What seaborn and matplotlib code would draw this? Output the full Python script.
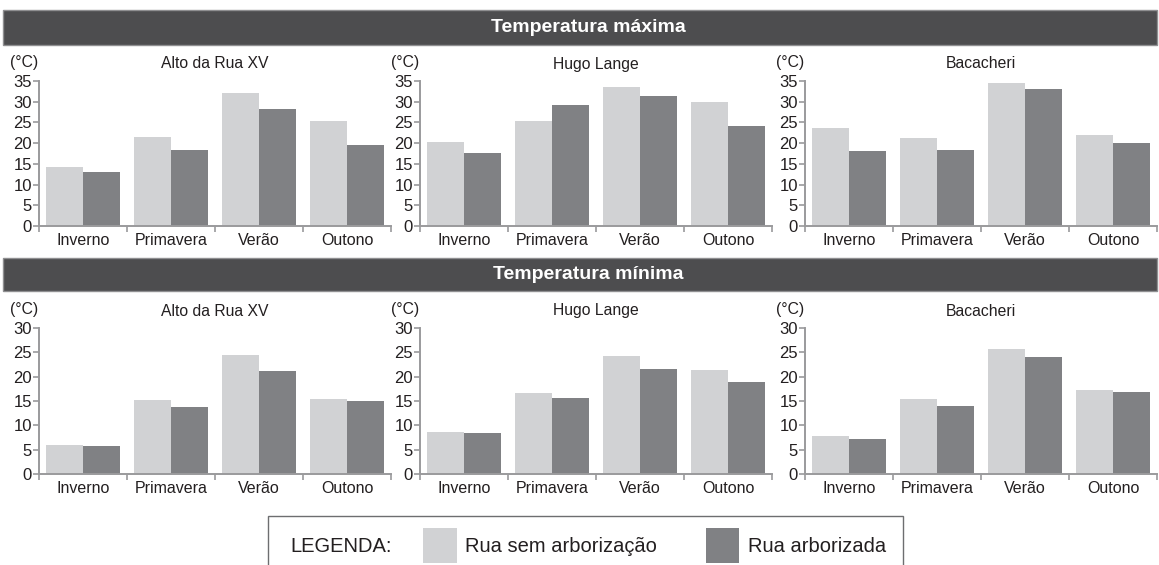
import matplotlib
matplotlib.use("Agg")
import matplotlib.pyplot as plt
import seaborn as sns
import pandas as pd
from matplotlib.patches import Rectangle

# ---------------- data ----------------
seasons = ["Inverno", "Primavera", "Verão", "Outono"]
stations = ["Alto da Rua XV", "Hugo Lange", "Bacacheri"]
series_names = ["Rua sem arborização", "Rua arborizada"]

# Temperatura máxima (°C)
max_alto_sem = [14.3, 21.5, 32.1, 25.4]
max_alto_arb = [13.1, 18.4, 28.3, 19.6]
max_hugo_sem = [20.3, 25.4, 33.5, 29.9]
max_hugo_arb = [17.7, 29.2, 31.4, 24.2]
max_baca_sem = [23.7, 21.3, 34.5, 22.0]
max_baca_arb = [18.2, 18.4, 33.1, 20.1]

# Temperatura mínima (°C)
min_alto_sem = [5.9, 15.2, 24.4, 15.4]
min_alto_arb = [5.7, 13.7, 21.1, 15.0]
min_hugo_sem = [8.6, 16.6, 24.2, 21.3]
min_hugo_arb = [8.4, 15.6, 21.5, 18.9]
min_baca_sem = [7.8, 15.4, 25.6, 17.2]
min_baca_arb = [7.2, 13.9, 24.0, 16.8]

max_ticks = [0, 5, 10, 15, 20, 25, 30, 35]
min_ticks = [0, 5, 10, 15, 20, 25, 30]

LIGHT = "#d1d2d4"
DARK = "#808184"
SPINE = "#9a9a9c"
HEADER = "#4d4d4f"
TXT = "#231f20"

sns.set_theme(style="white")
plt.rcParams['font.family'] = ['Liberation Sans', 'DejaVu Sans']

W, H = 1159, 565
fig = plt.figure(figsize=(W / 100, H / 100), dpi=100)


def fx(px):
    return px / W


def fy(py):
    return 1 - py / H


def draw(ax, sem, arb, ticks, title, left_px, width_px):
    df = pd.DataFrame({
        "Estação": seasons * 2,
        "Temp": sem + arb,
        "Tipo": [series_names[0]] * len(seasons) + [series_names[1]] * len(seasons),
    })
    sns.barplot(data=df, x="Estação", y="Temp", hue="Tipo", order=seasons,
                hue_order=series_names, palette=[LIGHT, DARK], saturation=1,
                width=0.83, gap=0, linewidth=0, ax=ax, legend=False)
    ax.set_xlim(-0.5, len(seasons) - 0.5)
    ax.set_ylim(ticks[0], ticks[-1])
    ax.set_yticks(ticks)
    ax.set_yticklabels([str(t) for t in ticks])
    ax.set_xticks(range(len(seasons)))
    ax.set_xticklabels(seasons)
    ax.set_xticks([i - 0.5 for i in range(len(seasons) + 1)], minor=True)
    ax.set_xlabel("")
    ax.set_ylabel("")
    for s in ["top", "right"]:
        ax.spines[s].set_visible(False)
    for s in ["left", "bottom"]:
        ax.spines[s].set_color(SPINE)
        ax.spines[s].set_linewidth(1.4)
    ax.tick_params(axis="x", which="major", length=0, pad=5, labelsize=11.5, labelcolor=TXT)
    ax.tick_params(axis="x", which="minor", length=4, width=1.2, color=SPINE, direction="out", bottom=True)
    ax.tick_params(axis="y", which="major", length=4, width=1.2, color=SPINE, direction="out",
                   left=True, pad=1, labelsize=12, labelcolor=TXT)
    ax.set_title(title, fontsize=11.3, color=TXT, pad=9)
    ax.text((left_px - 29 - left_px) / width_px, 1.13, "(°C)", transform=ax.transAxes,
            fontsize=11.3, color=TXT, ha="left", va="center")
    ax.patch.set_alpha(0)


lefts = [39, 420, 805]
width_px = 352

max_sem = [max_alto_sem, max_hugo_sem, max_baca_sem]
max_arb = [max_alto_arb, max_hugo_arb, max_baca_arb]
min_sem = [min_alto_sem, min_hugo_sem, min_baca_sem]
min_arb = [min_alto_arb, min_hugo_arb, min_baca_arb]

for i, st in enumerate(stations):
    ax = fig.add_axes([fx(lefts[i]), fy(226), width_px / W, 145 / H])
    draw(ax, max_sem[i], max_arb[i], max_ticks, st, lefts[i], width_px)
    ax2 = fig.add_axes([fx(lefts[i]), fy(474), width_px / W, 146 / H])
    draw(ax2, min_sem[i], min_arb[i], min_ticks, st, lefts[i], width_px)

# header bars
for top, bot, label in [(10, 45, "Temperatura máxima"), (258, 291, "Temperatura mínima")]:
    fig.patches.append(Rectangle((fx(3), fy(bot)), 1154 / W, (bot - top) / H,
                                 transform=fig.transFigure, facecolor=HEADER,
                                 edgecolor="#8f8f91", linewidth=1.0, zorder=0))
    fig.text(fx(588), fy((top + bot) / 2), label, color="white", fontsize=14,
             fontweight="bold", ha="center", va="center")

# legend box
fig.patches.append(Rectangle((fx(268), fy(575)), 635 / W, 59 / H,
                             transform=fig.transFigure, facecolor="white",
                             edgecolor="#6d6e70", linewidth=1.0, zorder=0))
fig.text(fx(290), fy(546), "LEGENDA:", fontsize=14.5, color=TXT, ha="left", va="center")
fig.patches.append(Rectangle((fx(423), fy(563)), 34 / W, 35 / H,
                             transform=fig.transFigure, facecolor=LIGHT, edgecolor="none"))
fig.text(fx(465), fy(546), series_names[0], fontsize=14.5, color=TXT, ha="left", va="center")
fig.patches.append(Rectangle((fx(706), fy(563)), 33 / W, 35 / H,
                             transform=fig.transFigure, facecolor=DARK, edgecolor="none"))
fig.text(fx(748), fy(546), series_names[1], fontsize=14.5, color=TXT, ha="left", va="center")

fig.savefig("out.png", dpi=100)
